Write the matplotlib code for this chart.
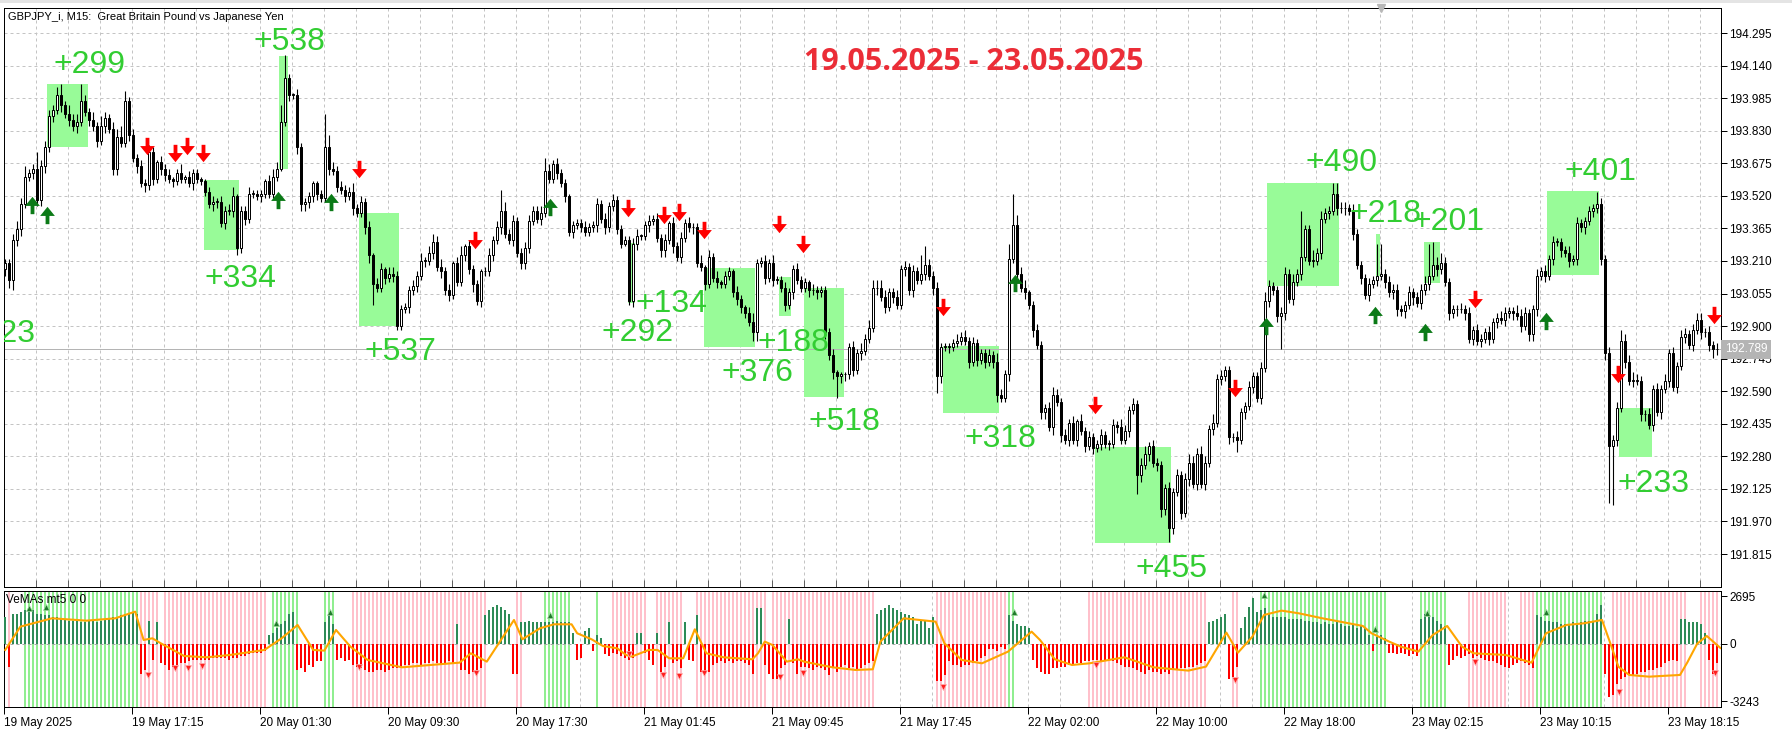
import matplotlib
matplotlib.use("Agg")
import matplotlib.pyplot as plt
import matplotlib.transforms as mtransforms
from matplotlib.patches import Rectangle
from matplotlib.path import Path
import numpy as np

# ---------------- price data (GBPJPY M15) ----------------
first_open = 193.17
closes = [
    193.20, 193.12, 193.31, 193.36, 193.48, 193.61, 193.63, 193.65, 193.50, 193.66,
    193.75, 193.90, 193.93, 194.00, 193.95, 193.91, 193.88, 193.85, 193.87, 193.97,
    193.92, 193.88, 193.85, 193.78, 193.85, 193.89, 193.84, 193.65, 193.80, 193.77,
    193.97, 193.81, 193.70, 193.66, 193.58, 193.57, 193.73, 193.60, 193.68, 193.65,
    193.62, 193.60, 193.59, 193.63, 193.60, 193.61, 193.58, 193.63, 193.60, 193.59,
    193.54, 193.48, 193.49, 193.49, 193.39, 193.45, 193.45, 193.52, 193.27, 193.45,
    193.41, 193.53, 193.53, 193.52, 193.53, 193.59, 193.53, 193.61, 193.65, 193.87,
    194.08, 194.00, 194.00, 193.75, 193.48, 193.49, 193.52, 193.58, 193.53, 193.51,
    193.75, 193.65, 193.64, 193.56, 193.55, 193.52, 193.54, 193.46, 193.44, 193.49,
    193.37, 193.24, 193.10, 193.08, 193.17, 193.13, 193.15, 193.14, 192.90, 192.98,
    192.99, 193.07, 193.09, 193.14, 193.21, 193.21, 193.25, 193.30, 193.18, 193.16,
    193.07, 193.05, 193.20, 193.11, 193.24, 193.28, 193.17, 193.10, 193.02, 193.16,
    193.16, 193.24, 193.31, 193.37, 193.45, 193.34, 193.31, 193.40, 193.25, 193.20,
    193.27, 193.40, 193.45, 193.41, 193.44, 193.64, 193.60, 193.67, 193.63, 193.58,
    193.52, 193.35, 193.38, 193.39, 193.37, 193.35, 193.37, 193.38, 193.48, 193.41,
    193.37, 193.47, 193.50, 193.36, 193.29, 193.31, 193.02, 193.29, 193.33, 193.33,
    193.38, 193.40, 193.41, 193.32, 193.26, 193.31, 193.39, 193.28, 193.23, 193.32,
    193.39, 193.37, 193.37, 193.20, 193.18, 193.10, 193.23, 193.13, 193.11, 193.10,
    193.14, 193.16, 193.06, 193.03, 192.99, 192.96, 192.92, 192.87, 193.20, 193.21,
    193.13, 193.20, 193.12, 193.12, 193.08, 193.00, 193.06, 193.17, 193.12, 193.08,
    193.11, 193.07, 193.07, 193.06, 193.07, 192.87, 192.76, 192.68, 192.66, 192.67,
    192.67, 192.80, 192.69, 192.77, 192.78, 192.84, 192.89, 193.08, 193.08, 193.04,
    192.99, 193.06, 193.04, 193.00, 193.17, 193.18, 193.07, 193.16, 193.12, 193.15,
    193.19, 193.14, 193.08, 192.66, 192.80, 192.80, 192.80, 192.82, 192.83, 192.85,
    192.83, 192.73, 192.82, 192.74, 192.77, 192.73, 192.76, 192.73, 192.57, 192.56,
    192.67, 193.22, 193.38, 193.15, 193.08, 193.06, 193.00, 192.88, 192.81, 192.49,
    192.51, 192.42, 192.57, 192.54, 192.38, 192.36, 192.44, 192.36, 192.45, 192.40,
    192.33, 192.37, 192.32, 192.34, 192.38, 192.34, 192.34, 192.43, 192.42, 192.36,
    192.40, 192.50, 192.53, 192.19, 192.24, 192.29, 192.33, 192.25, 192.24, 192.03,
    192.13, 191.94, 192.11, 192.19, 192.01, 192.17, 192.25, 192.15, 192.29, 192.15,
    192.25, 192.41, 192.44, 192.65, 192.66, 192.69, 192.37, 192.37, 192.36, 192.49,
    192.52, 192.61, 192.66, 192.56, 192.70, 193.02, 193.09, 193.07, 192.95, 192.96,
    193.15, 193.03, 193.11, 193.15, 193.23, 193.36, 193.21, 193.21, 193.25, 193.41,
    193.44, 193.45, 193.53, 193.46, 193.46, 193.46, 193.45, 193.34, 193.19, 193.13,
    193.05, 193.10, 193.12, 193.14, 193.15, 193.11, 193.06, 193.07, 192.98, 192.97,
    193.00, 193.06, 193.04, 193.01, 193.07, 193.10, 193.14, 193.19, 193.17, 193.20,
    193.11, 192.96, 192.98, 192.98, 192.98, 192.96, 192.84, 192.88, 192.83, 192.84,
    192.87, 192.84, 192.92, 192.94, 192.93, 192.96, 192.97, 192.96, 192.95, 192.90,
    192.96, 192.86, 192.98, 193.14, 193.16, 193.14, 193.22, 193.30, 193.30, 193.26,
    193.25, 193.21, 193.22, 193.39, 193.37, 193.40, 193.45, 193.46, 193.48, 193.22,
    192.77, 192.33, 192.36, 192.51, 192.83, 192.73, 192.64, 192.64, 192.64, 192.48,
    192.48, 192.43, 192.60, 192.49, 192.60, 192.64, 192.77, 192.61, 192.71, 192.85,
    192.86, 192.81, 192.88, 192.93, 192.87, 192.87, 192.81, 192.79, 192.79,
]

# wick lengths above / below the body, in 0.01 yen, one digit per bar
up_wick = (
    "2234352283" "3324524348" "3242532345" "5232323213" "2312413221"
    "1232323412" "2322213438" "0213222112" "6332322423" "2313313322"
    "2232423434" "2313413221" "2323342322" "3322323232" "2122232232"
    "3232222331" "2323231323" "2322413231" "2213213422" "3242232232"
    "2132222311" "1232424444" "3223232329" "5323222232" "3232223243"
    "2425341232" "2343232313" "2322322324" "3232342322" "2323234334"
    "3242322232" "2322343223" "3242322524" "2234332322" "2323323332"
    "2322342545" "3222323232" "2322332243" "3223232322" "2323222233"
    "2323533432" "2323232323" "323332323"
)
down_wick = (
    "3453322333" "3232323232" "2323232332" "2323232323" "3232222322"
    "2233232332" "3222322221" "2323333332" "2322232322" "3432232322"
    "2323232323" "2322232423" "2232322323" "3222322232" "3232222232"
    "3222212332" "2322332323" "2232232232" "2223322442" "3232232322"
    "2323232323" "3232322232" "3232232322" "3232323222" "2323232332"
    "2322232323" "3242323232" "3232323232" "2329323234" "3232323232"
    "3232323262" "3232323232" "3232322323" "2323232323" "2323232332"
    "3242323232" "2323232323" "2323232323" "2333232323" "2323232323"
    "3223232323" "3232323232" "323232343"
)
spike_high = {13: 194.04, 19: 194.05, 30: 194.02, 70: 194.19, 71: 194.09, 80: 193.91,
              81: 193.81, 124: 193.55, 135: 193.70, 230: 193.28, 251: 193.29, 252: 193.53,
              253: 193.43, 324: 193.45, 332: 193.58, 333: 193.58, 343: 193.29, 344: 193.29,
              356: 193.29, 357: 193.30, 398: 193.54}
spike_low = {1: 193.08, 92: 193.00, 118: 193.00, 208: 192.56, 233: 192.58, 283: 192.10,
             289: 191.99, 291: 191.87, 319: 192.79, 401: 192.06, 402: 192.05}

current_price = 192.789

# green profit boxes (bar from, bar to, price low, price high)
zone_x0 = [10.4, 49.6, 68.4, 88.5, 155.6, 174.6, 193.5, 199.6, 234.4, 272.5, 315.5, 342.6, 354.8, 385.4, 403.5]
zone_x1 = [20.6, 58.5, 70.6, 98.5, 157.5, 187.5, 196.4, 209.6, 248.5, 291.5, 333.5, 343.6, 358.6, 398.5, 411.6]
zone_lo = [193.754, 193.262, 193.646, 192.900, 193.008, 192.802, 192.948, 192.564, 192.488,
           191.869, 193.091, 193.138, 193.104, 193.143, 192.279]
zone_hi = [194.052, 193.595, 194.186, 193.440, 193.294, 193.178, 193.135, 193.080, 192.805,
           192.326, 193.583, 193.338, 193.302, 193.545, 192.512]

label_text = ["+299", "+334", "+538", "+537", "+134", "+292", "+376", "+188", "+518",
              "+318", "+455", "+490", "+218", "+201", "+401", "+233"]
label_x = [12.0, 49.75, 62.0, 89.75, 157.5, 149.0, 179.0, 188.0, 200.75, 239.75, 282.5,
           325.0, 336.0, 351.75, 389.75, 403.0]
label_y = [194.157, 193.143, 194.271, 192.791, 193.024, 192.886, 192.691, 192.834, 192.458,
           192.377, 191.758, 193.691, 193.448, 193.410, 193.652, 192.167]

# signal arrows on the price chart
buy_x = [6.7, 10.4, 68.2, 81.4, 136.3, 252.5, 315.3, 342.5, 355, 385.3]
buy_y = [193.476, 193.429, 193.500, 193.491, 193.469, 193.103, 192.898, 192.953, 192.874, 192.922]
sell_x = [35.4, 42.5, 45.4, 49.4, 88.5, 117.5, 155.6, 164.6, 168.5, 174.6, 193.5, 199.4,
          234.5, 272.5, 307.5, 367.5, 403.3, 427.3]
sell_y = [193.755, 193.724, 193.755, 193.724, 193.650, 193.310, 193.462, 193.431, 193.445,
          193.357, 193.384, 193.291, 192.993, 192.524, 192.603, 193.031, 192.674, 192.953]

price_ticks = ["191.815", "191.970", "192.125", "192.280", "192.435", "192.590", "192.745",
               "192.900", "193.055", "193.210", "193.365", "193.520", "193.675", "193.830",
               "193.985", "194.140", "194.295"]
time_bars = [0, 32, 64, 96, 128, 160, 192, 224, 256, 288, 320, 352, 384, 416]
time_labels = ["19 May 2025", "19 May 17:15", "20 May 01:30", "20 May 09:30", "20 May 17:30",
               "21 May 01:45", "21 May 09:45", "21 May 17:45", "22 May 02:00", "22 May 10:00",
               "22 May 18:00", "23 May 02:15", "23 May 10:15", "23 May 18:15"]

# ---------------- VeMAs indicator (values in hundreds) ----------------
hist = [
    15, -13, 17, 17, 18, 19, 19, 19, 17, 17,
    16, 16, 15, 15, 14, 14, 13, 13, 13, 12,
    12, 13, 13, 12, 13, 14, 14, 15, 15, 16,
    17, 17, 18, 17, -17, -15, 13, -9, 12, -11,
    -12, -15, -13, -12, -11, -11, -10, -9, -9, -9,
    -9, -9, -8, -8, -8, -8, -9, -8, -8, -7,
    -7, -6, -5, -5, -5, -4, 5, 6, 9, 11,
    13, 17, 18, -15, -14, -16, -12, -13, -10, -10,
    12, 17, 11, -9, -8, -10, -9, -12, -13, -14,
    -15, -16, -16, -15, -15, -16, -15, -14, -14, -13,
    -12, -12, -11, -11, -12, -11, -11, -10, -11, -12,
    -11, -10, -11, 11, -15, -15, -17, -16, -15, -14,
    16, 19, 21, 22, 21, 19, 17, -17, -17, 12,
    12, 13, 12, 12, 12, 12, 12, 12, 13, 12,
    12, 12, 6, -9, -8, 7, 9, -4, 5, 3,
    -6, -7, -5, -6, -7, -8, -9, -8, 6, 6,
    -5, -9, -12, 6, -16, -13, 12, -11, -10, -14,
    12, -9, -10, 16, -16, -17, -16, -12, -11, -10,
    -11, -10, -11, -10, -10, -11, -12, -17, 20, 20,
    -12, -17, -20, -20, -14, -12, 14, -11, -17, -13,
    -13, -14, -15, -13, -14, -15, -18, -14, -16, -13,
    -12, -14, -13, -15, -14, -12, -11, -10, 17, 19,
    20, 22, 20, 19, 18, 17, 16, 15, 11, 13,
    13, 9, 15, -21, -21, -18, -10, -12, -12, -13,
    -12, -12, -11, -10, -8, -7, -3, -3, -4, -2,
    -3, 16, 13, 11, 10, 10, 9, -9, -14, -16,
    -17, -17, -14, -14, -13, -13, -12, -12, -11, -11,
    -10, -10, -9, -9, -10, -10, -9, -10, -11, -12,
    -13, -13, -14, -15, -16, -17, -15, -16, -16, -17,
    -16, -17, -15, -15, -14, -14, -13, -13, -12, -11,
    -10, 12, 13, 14, 15, 17, -20, -19, -13, 9,
    15, 21, 26, 18, 19, 20, 17, 15, 15, 15,
    15, 14, 14, 14, 14, 13, 13, 12, 12, 11,
    12, 11, 11, 12, 11, 10, 10, 11, 9, 10,
    9, 5, -4, 4, 5, 3, -5, -5, -6, -5,
    -6, -7, -6, -7, 14, 17, 15, 15, 13, 11,
    10, -12, -9, -7, -8, -7, -6, -8, -7, -8,
    -9, -10, -10, -11, -12, -13, -14, -12, -11, -10,
    -11, -12, -14, 16, 15, 13, 13, 12, 12, 11,
    11, 11, 12, 11, 12, 13, 13, 12, 17, 22,
    -17, -30, -29, -23, -20, -19, -18, -18, -17, -16,
    -16, -15, -15, -14, -13, -11, -10, -9, -10, 14,
    14, 12, 12, 12, 11, 6, -9, -17, -11,
]
green_runs = [(5, 33), (67, 73), (80, 82), (135, 141), (148, 148), (251, 252), (314, 345),
              (354, 360), (383, 399)]
pink_runs = [(1, 1), (34, 38), (40, 65), (87, 120), (128, 129), (152, 160), (163, 169),
             (173, 190), (192, 217), (233, 250), (271, 300), (307, 308), (366, 375),
             (379, 382), (402, 420), (424, 428)]

ma_x = [0, 3.8, 11.7, 20.3, 27.5, 32.5, 34.6, 36.8, 38.9, 44.7,
        50.4, 56.2, 64.8, 69.1, 73.1, 77, 79.8, 82.7, 86.3, 90.6,
        99.2, 113.6, 116.4, 120.4, 127.2, 129.3, 133.7, 137.2, 141.6, 143,
        146.6, 149.4, 153, 155.2, 156.6, 160.9, 163.1, 166, 169.5, 172.4,
        175.3, 179.6, 186.8, 188.2, 189.9, 191.8, 195.4, 198.2, 199.7, 206.8,
        212.6, 216.9, 218.8, 224.6, 232.6, 234.8, 239.1, 244.2, 250.7, 256.6,
        258.7, 262.4, 266.7, 271.1, 279.8, 287.1, 295.8, 300.2, 305.3, 308.2,
        311.8, 314.7, 319.1, 323.4, 329.3, 339.4, 341.6, 346, 348.9, 353.3,
        356.9, 360.5, 364.2, 367.1, 375.1, 381.6, 385.2, 390.3, 394.7, 399.2,
        401, 403.3, 406, 411, 418.7, 420.5, 423, 425.4, 428.8]
ma_v = [-356, 963, 1434, 1302, 1434, 1811, 209, 303, 20, -696,
        -771, -639, -356, 303, 1057, -356, -394, 775, -168, -922,
        -1337, -1073, -545, -1016, 1340, 247, 869, 1095, 1095, 586,
        247, -130, -262, -639, -733, -356, -356, -828, -828, 812,
        -545, -771, -884, -545, 115, -74, -1016, -884, -1016, -1337,
        -1488, -1450, 115, 1434, 1246, 20, -922, -1111, -451, 680,
        209, -884, -1205, -1111, -771, -1337, -1525, -1299, 624, -507,
        398, 1623, 1868, 1717, 1434, 1001, 586, 115, -168, -451,
        492, 1001, -168, -545, -639, -1073, 586, 1057, 1152, 1340,
        200, -1300, -1770, -1866, -1770, -1074, 0, 435, -243]

ind_buy_x = [5.9, 10.2, 67.6, 81.3, 136.2, 252.2, 314.7, 342.4, 355.4, 385.2]
ind_buy_v = [2019, 2092, 1154, 1810, 1623, 1810, 2754, 814, 1719, 1776]
ind_sell_x = [35.8, 42.5, 45.8, 49.3, 88.4, 117.6, 155.9, 164.5, 168.5, 174.6, 193.6, 199.4,
              234.5, 272.6, 307.5, 367.4, 403.4, 427.4]
ind_sell_v = [-1770, -1391, -1391, -1261, -1301, -1674, -582, -1770, -1827, -1640, -1900,
              -1674, -2466, -1205, -2053, -1018, -2714, -1674]

# ---------------- figure ----------------
W, H = 1792, 732
PX = 0.72  # one pixel in points
fig = plt.figure(figsize=(W / 100, H / 100), dpi=100)
fig.patch.set_facecolor("white")


def axes_px(left, top, right, bottom):
    return fig.add_axes([left / W, 1 - bottom / H, (right - left) / W, (bottom - top) / H])


ax = axes_px(4, 8, 1721, 587)
ax2 = axes_px(4, 591, 1721, 707)

n = len(closes)
x = np.arange(n)
c = np.array(closes)
o = np.array([first_open] + closes[:-1])
uw = np.array([int(ch) for ch in up_wick[:n]]) / 100.0
dw = np.array([int(ch) for ch in down_wick[:n]]) / 100.0
hi = np.maximum(o, c) + uw
lo = np.minimum(o, c) - dw
for k, v in spike_high.items():
    hi[k] = max(hi[k], v)
for k, v in spike_low.items():
    lo[k] = min(lo[k], v)

xlim = (-0.3, -0.3 + 1717 / 4)
grid_kw = dict(color="#C4C4C4", lw=PX, ls=(0, (3, 3)), zorder=0)

# ---- main price window ----
ax.set_xlim(*xlim)
ax.set_ylim(191.658, 194.414)
tick_vals = [float(t) for t in price_ticks]
for yv in tick_vals:
    ax.axhline(yv, **grid_kw)
for gx in range(0, n + 8, 8):
    ax.axvline(gx - 0.3, **grid_kw)

for x0, x1, y0, y1 in zip(zone_x0, zone_x1, zone_lo, zone_hi):
    ax.add_patch(Rectangle((x0, y0), x1 - x0, y1 - y0, facecolor="#98FB98", lw=0, zorder=1))

ax.axhline(current_price, color="#B4B4B4", lw=PX, zorder=1.5)

ax.vlines(x, lo, hi, color="black", lw=PX * 1.1, zorder=3)
body = np.maximum(np.abs(c - o), 0.003)
fill = np.where(c >= o, "white", "black")
ax.bar(x, body, bottom=np.minimum(o, c), width=0.55, color=fill, edgecolor="black",
       linewidth=PX, zorder=4)

down_path = Path([(-0.22, 1), (0.22, 1), (0.22, 0.05), (0.85, 0.05), (0, -1),
                  (-0.85, 0.05), (-0.22, 0.05), (-0.22, 1)], closed=True)
up_path = Path([(-0.22, -1), (0.22, -1), (0.22, -0.05), (0.85, -0.05), (0, 1),
                (-0.85, -0.05), (-0.22, -0.05), (-0.22, -1)], closed=True)
ax.plot(sell_x, sell_y, ls="none", marker=down_path, ms=12.5, color="#FF0000", mew=0, zorder=5)
ax.plot(buy_x, buy_y, ls="none", marker=up_path, ms=12.5, color="#0B7A17", mew=0, zorder=5)

# digit centre -> baseline shift (half of the 23 px digit height)
lbl_tr = ax.transData + mtransforms.ScaledTranslation(0, -11.5 / 100, fig.dpi_scale_trans)
for t, lx, ly in zip(label_text, label_x, label_y):
    ax.text(lx, ly, t, transform=lbl_tr, color="#32CD32", fontsize=23,
            family="Liberation Sans", ha="left", va="baseline", zorder=6, clip_on=True)
ax.text(7.5, 192.881, "+123", transform=lbl_tr, color="#32CD32", fontsize=23,
        family="Liberation Sans", ha="right", va="baseline", zorder=6, clip_on=True)

ax.text(242.25, 194.176, "19.05.2025 - 23.05.2025", transform=lbl_tr, color="#EB2D37",
        fontsize=22, family="Open Sans", weight="bold", ha="center", va="baseline", zorder=6)

ax.text(4 / 1717, 1 - 9 / 579, "GBPJPY_i, M15:  Great Britain Pound vs Japanese Yen",
        transform=ax.transAxes, fontsize=8, family="Liberation Sans", ha="left",
        va="center", zorder=7)

ax.yaxis.tick_right()
ax.set_yticks(tick_vals)
ax.set_yticklabels(price_ticks)
ax.tick_params(axis="y", direction="out", length=4, width=PX, pad=2, labelsize=8.5)
for lab in ax.get_yticklabels():
    lab.set_family("Liberation Sans")
ax.set_xticks([gx - 0.3 for gx in range(8, n, 8)])
ax.set_xticklabels([])
ax.tick_params(axis="x", direction="in", length=5, width=PX, color="#606060")

blend = mtransforms.blended_transform_factory(ax.transAxes, ax.transData)
ax.text(1 + 4 / 1717, current_price, "192.789", transform=blend, ha="left", va="center",
        fontsize=8.5, family="Liberation Sans", color="white", zorder=8, clip_on=False,
        bbox=dict(boxstyle="square,pad=0.3", fc="#B4B4B4", ec="none"))
ax.plot([0.802], [1.0], marker="v", ms=6, color="#B8B8B8", transform=ax.transAxes,
        clip_on=False, zorder=8)

for sp in ax.spines.values():
    sp.set_linewidth(PX)
    sp.set_color("black")

# ---- indicator window ----
ylo, yhi = -3582, 2978
ax2.set_xlim(*xlim)
ax2.set_ylim(ylo, yhi)
for gx in range(0, n + 8, 8):
    ax2.axvline(gx - 0.3, **grid_kw)
for runs, col in ((green_runs, "#90EE90"), (pink_runs, "#FFC0CB")):
    xs = [b for a, e in runs for b in range(a, e + 1)]
    ax2.bar(xs, yhi - ylo, bottom=ylo, width=0.45, color=col, lw=0, zorder=1)
ax2.axhline(0, color="#A8A8A8", lw=PX, ls=(0, (3, 3)), zorder=2)
hv = np.array(hist) * 100
ax2.bar(x, hv, width=0.45, color=np.where(hv > 0, "#2E8B57", "#FF0000"), lw=0, zorder=3)
ax2.plot(ma_x, ma_v, color="#FFA500", lw=1.5, zorder=4)
ax2.plot(ind_buy_x, ind_buy_v, ls="none", marker="^", ms=5, color="#1F7A2A",
         mec="#9ED89E", mew=0.5, zorder=5)
ax2.plot(ind_sell_x, ind_sell_v, ls="none", marker="v", ms=5, color="#FF2020",
         mec="#FFB0B0", mew=0.5, zorder=5)
ax2.text(2 / 1717, 1 - 9 / 116, "VeMAs mt5 0 0", transform=ax2.transAxes, fontsize=8.5,
         family="Liberation Sans", ha="left", va="center", zorder=7)

ax2.yaxis.tick_right()
ax2.set_yticks([2695, 0, -3243])
ax2.set_yticklabels(["2695", "0", "-3243"])
ax2.tick_params(axis="y", direction="out", length=4, width=PX, pad=2, labelsize=8.5)
ax2.set_xticks([b - 0.3 for b in time_bars])
ax2.set_xticklabels(time_labels)
ax2.tick_params(axis="x", direction="out", length=5, width=PX, pad=2, labelsize=8.5)
for lab in ax2.get_xticklabels():
    lab.set_ha("left")
    lab.set_family("Liberation Sans")
for lab in ax2.get_yticklabels():
    lab.set_family("Liberation Sans")
for sp in ax2.spines.values():
    sp.set_linewidth(PX)
    sp.set_color("black")

fig.add_artist(Rectangle((0, 1 - 3 / H), 1, 3 / H, transform=fig.transFigure,
                         facecolor="#E4E4E4", lw=0))

fig.savefig("out.png", dpi=100)
